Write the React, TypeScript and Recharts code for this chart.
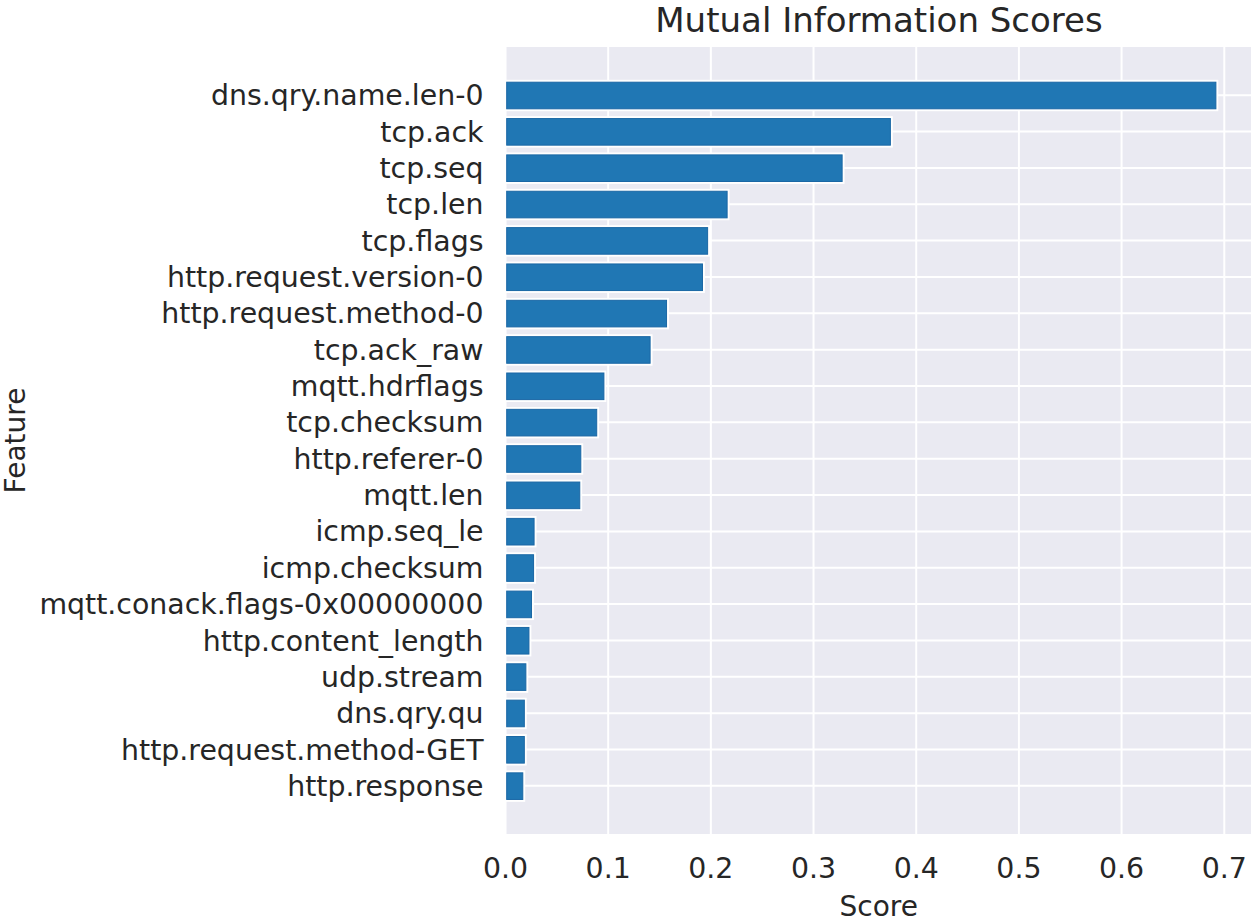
import React from 'react';
import { BarChart, Bar, XAxis, YAxis, CartesianGrid, Label } from 'recharts';

const features: string[] = [
  'dns.qry.name.len-0',
  'tcp.ack',
  'tcp.seq',
  'tcp.len',
  'tcp.flags',
  'http.request.version-0',
  'http.request.method-0',
  'tcp.ack_raw',
  'mqtt.hdrflags',
  'tcp.checksum',
  'http.referer-0',
  'mqtt.len',
  'icmp.seq_le',
  'icmp.checksum',
  'mqtt.conack.flags-0x00000000',
  'http.content_length',
  'udp.stream',
  'dns.qry.qu',
  'http.request.method-GET',
  'http.response',
];

const scores: number[] = [
  0.693, 0.376, 0.329, 0.217, 0.198, 0.193, 0.158, 0.142, 0.097, 0.09,
  0.0745, 0.0735, 0.029, 0.0285, 0.0265, 0.024, 0.021, 0.0195, 0.0195, 0.018,
];

const xTicks: number[] = [0, 0.1, 0.2, 0.3, 0.4, 0.5, 0.6, 0.7];

const title = 'Mutual Information Scores';
const xLabel = 'Score';
const yLabel = 'Feature';

const data = features.map((name, i) => ({ name, value: scores[i] }));

const FONT = '"DejaVu Sans", sans-serif';
const TEXT = '#262626';
const TICK_SIZE = 28.4;
const LABEL_SIZE = 28;

const BarShape = (props: any) => {
  const { x, y, width, height } = props;
  const e = 1.2;
  return (
    <g>
      <rect x={x} y={y - e} width={width + e} height={height + 2 * e} fill="#ffffff" />
      <rect
        x={x + e}
        y={y + e}
        width={Math.max(width - 2 * e, 0)}
        height={Math.max(height - 2 * e, 0)}
        fill="#2077B4"
        stroke="#1A67A5"
        strokeWidth={1}
      />
    </g>
  );
};

const FeatureLabel = (props: any) => {
  const vb = props.viewBox || { x: 0, y: 46, width: 505, height: 789 };
  const cx = 25;
  const cy = vb.y + vb.height / 2;
  return (
    <text
      x={cx}
      y={cy}
      transform={`rotate(-90, ${cx}, ${cy})`}
      textAnchor="middle"
      fontFamily={FONT}
      fontSize={LABEL_SIZE}
      fill={TEXT}
    >
      {yLabel}
    </text>
  );
};

const ScoreLabel = (props: any) => {
  const vb = props.viewBox || { x: 505, y: 835, width: 747, height: 86 };
  return (
    <text
      x={vb.x + vb.width / 2}
      y={916}
      textAnchor="middle"
      fontFamily={FONT}
      fontSize={LABEL_SIZE}
      fill={TEXT}
    >
      {xLabel}
    </text>
  );
};

export default function App() {
  return (
    <div style={{ position: 'absolute', left: 0, top: 0, width: 1255, height: 921, background: '#fff' }}>
      <BarChart
        width={1255}
        height={921}
        data={data}
        layout="vertical"
        margin={{ top: 46, right: 3, bottom: 0, left: 0 }}
      >
        <CartesianGrid fill="#EAEAF2" fillOpacity={1} stroke="#ffffff" strokeWidth={2} />
        <XAxis
          type="number"
          domain={[0, 0.727]}
          ticks={xTicks}
          tickFormatter={(v: number) => v.toFixed(1)}
          axisLine={false}
          tickLine={false}
          tickSize={0}
          tickMargin={23}
          height={86}
          allowDataOverflow
          tick={{ fontSize: TICK_SIZE, fill: TEXT, fontFamily: FONT }}
        >
          <Label content={<ScoreLabel />} />
        </XAxis>
        <YAxis
          type="category"
          dataKey="name"
          width={505.5}
          axisLine={false}
          tickLine={false}
          tickSize={0}
          tickMargin={22}
          interval={0}
          padding={{ top: 31, bottom: 31 }}
          tick={{ fontSize: TICK_SIZE, fill: TEXT, fontFamily: FONT }}
        >
          <Label content={<FeatureLabel />} />
        </YAxis>
        <Bar dataKey="value" barSize={29} shape={<BarShape />} isAnimationActive={false} />
      </BarChart>
      <svg
        width={1255}
        height={46}
        style={{ position: 'absolute', left: 0, top: 0, pointerEvents: 'none' }}
      >
        <text x={879} y={31.5} textAnchor="middle" fontFamily={FONT} fontSize={34} fill={TEXT}>
          {title}
        </text>
      </svg>
    </div>
  );
}
